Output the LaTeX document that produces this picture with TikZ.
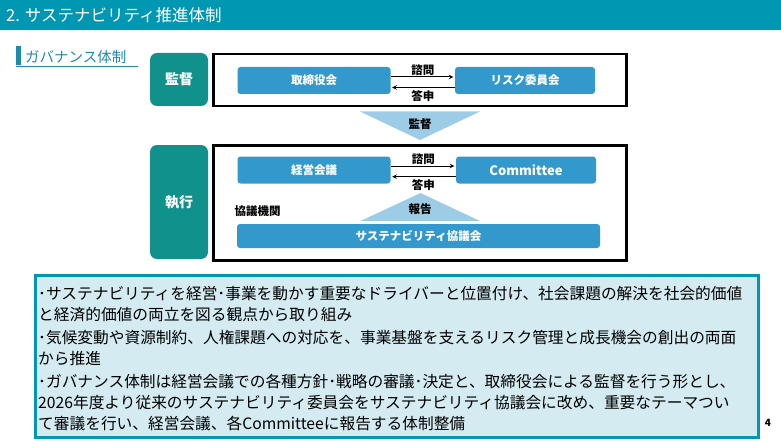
\documentclass[tikz,border=0pt]{standalone}
\usepackage{fontspec}
\setmainfont{Noto Sans CJK JP}
\usetikzlibrary{shapes.geometric, arrows, positioning}
\definecolor{headteal}{HTML}{0097B2}
\definecolor{sideteal}{HTML}{11918C}
\definecolor{boxblue}{HTML}{3399CC}
\definecolor{triblue}{HTML}{9DCDE6}
\definecolor{notefill}{HTML}{D3EBF1}
\definecolor{subteal}{HTML}{1E8BAE}
\tikzstyle{rolebox} = [rectangle, rounded corners=7pt, fill=sideteal, text=white, font=\fontsize{14}{14}\selectfont\bfseries, minimum width=58pt]
\tikzstyle{frame} = [rectangle, draw=black, line width=2.3pt, minimum width=413pt]
\tikzstyle{organ} = [rectangle, rounded corners=3pt, fill=boxblue, text=white, font=\fontsize{11.5}{12}\selectfont\bfseries, minimum height=27pt, inner sep=0pt]
\tikzstyle{tag} = [font=\fontsize{11.5}{12}\selectfont\bfseries, inner sep=0pt]
\tikzstyle{arrow} = [line width=1pt,->,>=stealth,shorten >=1.5pt]

\begin{document}
\begin{tikzpicture}[x=1pt, y=-1pt]
        \useasboundingbox (0,0) rectangle (781,441);
        % header
        \fill[headteal] (0,0) rectangle (781,30);
        \node (title) [anchor=west, text=white, font=\fontsize{16.5}{17}\selectfont, inner sep=0pt] at (6,15) {2. サステナビリティ推進体制};
        \fill[subteal] (16,46) rectangle (21,65);
        \draw[subteal, line width=1pt] (16,67) -- (138,67);
        \node (govern) [anchor=west, text=subteal, font=\fontsize{14.5}{15}\selectfont, inner sep=0pt] at (25,57) {ガバナンス体制};

        % supervision
        \node (kansa) [rolebox, minimum height=53pt] at (179,79.5) {監督};
        \node (frameA) [frame, minimum height=52pt] at (420,80) {};
        \node (board) [organ, minimum width=153pt] at (314,80.5) {取締役会};
        \node (risk) [organ, minimum width=140pt] at (525,80.5) {リスク委員会};
        \draw [arrow] ([yshift=3.5pt]board.east) -- ([yshift=3.5pt]risk.west) node [tag, midway, above=1pt] {諮問};
        \draw [arrow] ([yshift=-7pt]risk.west) -- ([yshift=-7pt]board.east) node [tag, midway, below=2.5pt] {答申};
        \fill[triblue] (360,111.5) -- (480,111.5) -- (420,140) -- cycle;
        \node (superv) [tag] at (420,124) {監督};

        % execution
        \node (shikko) [rolebox, minimum height=114pt] at (179,202) {執行};
        \node (frameB) [frame, minimum height=115pt] at (420,203) {};
        \node (keiei) [organ, minimum width=153pt] at (314,170) {経営会議};
        \node (committee) [organ, minimum width=140pt, font=\fontsize{13}{13}\selectfont\bfseries] at (526,170) {Committee};
        \draw [arrow] ([yshift=4pt]keiei.east) -- ([yshift=4pt]committee.west) node [tag, midway, above=1pt] {諮問};
        \draw [arrow] ([yshift=-6.7pt]committee.west) -- ([yshift=-6.7pt]keiei.east) node [tag, midway, below=2.5pt] {答申};
        \fill[triblue] (360.5,221) -- (480,221) -- (420.5,193) -- cycle;
        \node (report) [tag] at (420,209) {報告};
        \node (kyogi) [tag, anchor=west] at (234.5,211) {協議機関};
        \node (council) [organ, minimum width=363pt, minimum height=24pt] at (418.5,236) {サステナビリティ協議会};

        % summary
        \node (note) [rectangle, draw=headteal, line width=3pt, fill=notefill, minimum width=723pt, minimum height=161.5pt, anchor=north west, inner sep=0pt] at (33.5,274) {};
        \node (points) [anchor=north west, align=left, font=\fontsize{15.7}{21}\selectfont, inner sep=0pt] at (38,286) {%
        ･サステナビリティを経営･事業を動かす重要なドライバーと位置付け、社会課題の解決を社会的価値\\
        と経済的価値の両立を図る観点から取り組み\\[2pt]
        ･気候変動や資源制約、人権課題への対応を、事業基盤を支えるリスク管理と成長機会の創出の両面\\
        から推進\\[2pt]
        ･ガバナンス体制は経営会議での各種方針･戦略の審議･決定と、取締役会による監督を行う形とし、\\
        2026年度より従来のサステナビリティ委員会をサステナビリティ協議会に改め、重要なテーマつい\\
        て審議を行い、経営会議、各Committeeに報告する体制整備};
        \node (pagenum) [font=\fontsize{10}{10}\selectfont\bfseries] at (768,423) {4};
    \end{tikzpicture}
\end{document}
